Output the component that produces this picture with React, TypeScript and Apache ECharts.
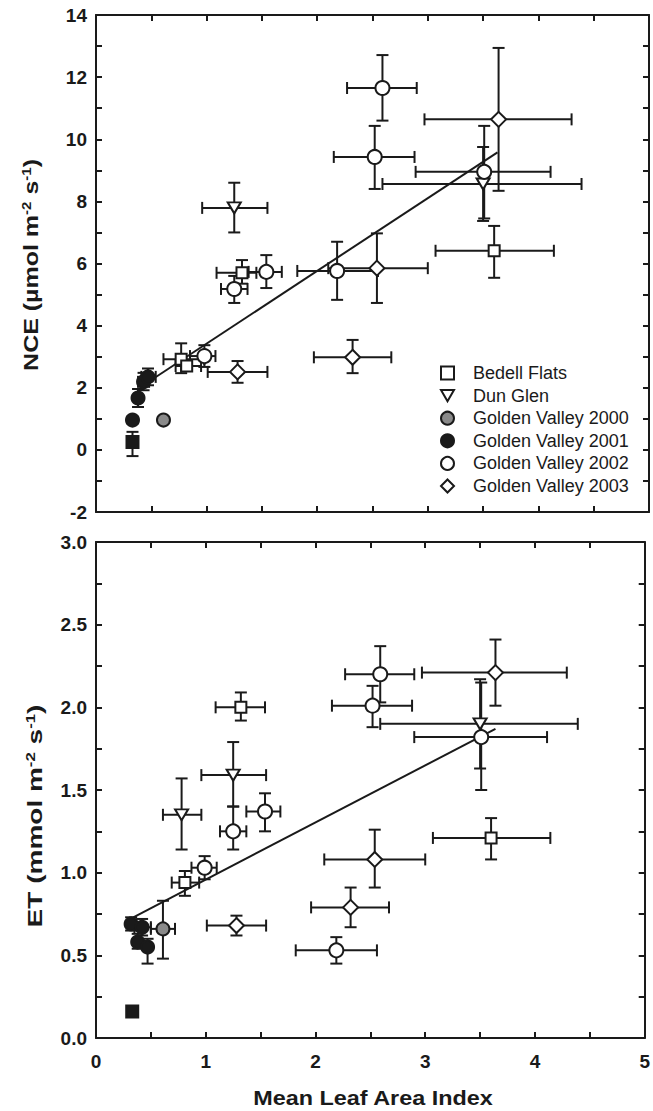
import React, { useEffect, useRef } from "react";
import * as echarts from "echarts";

// ---- data: [x, y, xLow, xHigh, yLow, yHigh] ----
const xTicks = [0, 1, 2, 3, 4, 5];
const nceTicks = [-2, 0, 2, 4, 6, 8, 10, 12, 14];
const etTicks = [0.0, 0.5, 1.0, 1.5, 2.0, 2.5, 3.0];

const bedellNCE = [
  [1.32, 5.7, 1.09, 1.45, 5.35, 6.11],
  [0.77, 2.92, 0.61, 0.98, 2.47, 3.43],
  [0.82, 2.7, 0.72, 0.95, 2.58, 2.85],
  [3.6, 6.41, 3.07, 4.14, 5.54, 7.21],
];
const dunGlenNCE = [
  [1.25, 7.79, 0.96, 1.55, 7.0, 8.6],
  [3.5, 8.56, 2.59, 4.39, 7.37, 9.75],
];
const gv2000NCE = [[0.61, 0.96, 0.61, 0.61, 0.96, 0.96]];
const gv2001NCE = [
  [0.33, 0.96, 0.33, 0.33, 0.85, 1.07],
  [0.38, 1.67, 0.35, 0.41, 1.38, 1.96],
  [0.43, 2.19, 0.38, 0.48, 1.92, 2.48],
  [0.47, 2.35, 0.41, 0.54, 2.08, 2.62],
];
const gv2001SquareNCE = [[0.33, 0.25, 0.33, 0.33, -0.2, 0.58]];
const gv2002NCE = [
  [1.25, 5.18, 1.13, 1.37, 4.73, 5.6],
  [1.54, 5.73, 1.38, 1.68, 5.21, 6.27],
  [0.98, 3.02, 0.85, 1.08, 2.67, 3.37],
  [2.18, 5.76, 1.82, 2.55, 4.83, 6.7],
  [2.59, 11.65, 2.27, 2.9, 10.6, 12.71],
  [2.52, 9.43, 2.15, 2.88, 8.4, 10.43],
  [3.51, 8.95, 2.89, 4.11, 7.45, 10.43],
];
const gv2003NCE = [
  [2.54, 5.85, 2.1, 3.0, 4.73, 6.97],
  [2.32, 2.98, 1.97, 2.67, 2.47, 3.54],
  [1.28, 2.51, 1.01, 1.55, 2.16, 2.86],
  [3.64, 10.64, 2.97, 4.3, 8.34, 12.94],
];
const nceFit = [
  [0.5, 2.25],
  [3.63, 9.58],
];

const bedellET = [
  [1.32, 2.0, 1.09, 1.54, 1.92, 2.09],
  [0.81, 0.94, 0.69, 0.94, 0.86, 1.01],
  [3.6, 1.21, 3.07, 4.14, 1.08, 1.33],
];
const dunGlenET = [
  [1.25, 1.59, 0.96, 1.55, 1.4, 1.79],
  [0.78, 1.35, 0.61, 0.96, 1.14, 1.57],
  [3.5, 1.9, 2.59, 4.39, 1.63, 2.17],
];
const gv2000ET = [[0.61, 0.66, 0.5, 0.72, 0.48, 0.83]];
const gv2001ET = [
  [0.32, 0.69, 0.32, 0.32, 0.65, 0.73],
  [0.42, 0.67, 0.35, 0.5, 0.62, 0.72],
  [0.38, 0.58, 0.38, 0.38, 0.54, 0.63],
  [0.47, 0.55, 0.47, 0.47, 0.45, 0.6],
];
const gv2001SquareET = [[0.33, 0.16, 0.33, 0.33, 0.16, 0.16]];
const gv2002ET = [
  [2.59, 2.2, 2.27, 2.9, 2.03, 2.37],
  [2.52, 2.01, 2.15, 2.88, 1.88, 2.13],
  [1.54, 1.37, 1.37, 1.68, 1.25, 1.48],
  [1.25, 1.25, 1.13, 1.37, 1.14, 1.4],
  [0.99, 1.03, 0.87, 1.1, 0.96, 1.1],
  [2.19, 0.53, 1.82, 2.56, 0.45, 0.61],
  [3.51, 1.82, 2.9, 4.11, 1.5, 2.15],
];
const gv2003ET = [
  [1.28, 0.68, 1.01, 1.55, 0.62, 0.74],
  [2.32, 0.79, 1.96, 2.67, 0.67, 0.91],
  [2.54, 1.08, 2.08, 3.0, 0.91, 1.26],
  [3.64, 2.21, 2.97, 4.29, 2.01, 2.41],
];
const etFit = [
  [0.34, 0.73],
  [3.64, 1.87],
];

const legendNames = [
  "Bedell Flats",
  "Dun Glen",
  "Golden Valley 2000",
  "Golden Valley 2001",
  "Golden Valley 2002",
  "Golden Valley 2003",
];

const FONT = "'Liberation Sans', Arial, sans-serif";
const INK = "#1a1a1a";
const TRI_DOWN = "path://M0,0L12,0L6,10.4Z";

const groupsNCE = [
  { name: legendNames[0], data: bedellNCE, symbol: "rect", size: 11, fill: "#fff" },
  { name: legendNames[1], data: dunGlenNCE, symbol: TRI_DOWN, size: [13, 11], fill: "#fff" },
  { name: legendNames[2], data: gv2000NCE, symbol: "circle", size: 13, fill: "#8a8a8a" },
  { name: legendNames[3], data: gv2001NCE, symbol: "circle", size: 13, fill: INK },
  { name: legendNames[4], data: gv2002NCE, symbol: "circle", size: 14, fill: "#fff" },
  { name: legendNames[5], data: gv2003NCE, symbol: "diamond", size: 15, fill: "#fff" },
  { name: legendNames[3], data: gv2001SquareNCE, symbol: "rect", size: 12, fill: INK },
];
const groupsET = [
  { name: legendNames[0], data: bedellET, symbol: "rect", size: 11, fill: "#fff" },
  { name: legendNames[1], data: dunGlenET, symbol: TRI_DOWN, size: [13, 11], fill: "#fff" },
  { name: legendNames[2], data: gv2000ET, symbol: "circle", size: 13, fill: "#8a8a8a" },
  { name: legendNames[3], data: gv2001ET, symbol: "circle", size: 13, fill: INK },
  { name: legendNames[4], data: gv2002ET, symbol: "circle", size: 14, fill: "#fff" },
  { name: legendNames[5], data: gv2003ET, symbol: "diamond", size: 15, fill: "#fff" },
  { name: legendNames[3], data: gv2001SquareET, symbol: "rect", size: 12, fill: INK },
];

function errorRender(params: any, api: any) {
  const x = api.value(0);
  const y = api.value(1);
  const xl = api.value(2);
  const xh = api.value(3);
  const yl = api.value(4);
  const yh = api.value(5);
  const style = { stroke: INK, lineWidth: 2, fill: null };
  const cap = 6;
  const children: any[] = [];
  if (xh > xl) {
    const a = api.coord([xl, y]);
    const b = api.coord([xh, y]);
    children.push({ type: "line", shape: { x1: a[0], y1: a[1], x2: b[0], y2: b[1] }, style });
    children.push({ type: "line", shape: { x1: a[0], y1: a[1] - cap, x2: a[0], y2: a[1] + cap }, style });
    children.push({ type: "line", shape: { x1: b[0], y1: b[1] - cap, x2: b[0], y2: b[1] + cap }, style });
  }
  if (yh > yl) {
    const a = api.coord([x, yl]);
    const b = api.coord([x, yh]);
    children.push({ type: "line", shape: { x1: a[0], y1: a[1], x2: b[0], y2: b[1] }, style });
    children.push({ type: "line", shape: { x1: a[0] - cap, y1: a[1], x2: a[0] + cap, y2: a[1] }, style });
    children.push({ type: "line", shape: { x1: b[0] - cap, y1: b[1], x2: b[0] + cap, y2: b[1] }, style });
  }
  return { type: "group", children };
}

function buildSeries(groups: any[], fit: number[][], axis: number) {
  const all: number[][] = [];
  groups.forEach((g) => g.data.forEach((d: number[]) => all.push(d)));
  const series: any[] = [
    {
      type: "custom",
      name: "err" + axis,
      xAxisIndex: axis,
      yAxisIndex: axis,
      renderItem: errorRender,
      data: all,
      encode: { x: [0, 2, 3], y: [1, 4, 5] },
      z: 2,
      silent: true,
    },
    {
      type: "line",
      name: "fit" + axis,
      xAxisIndex: axis,
      yAxisIndex: axis,
      data: fit,
      symbol: "none",
      lineStyle: { color: INK, width: 2 },
      z: 3,
      silent: true,
    },
  ];
  groups.forEach((g) => {
    series.push({
      type: "scatter",
      name: g.name,
      xAxisIndex: axis,
      yAxisIndex: axis,
      data: g.data.map((d: number[]) => [d[0], d[1]]),
      symbol: g.symbol,
      symbolSize: g.size,
      itemStyle: { color: g.fill, borderColor: INK, borderWidth: 2, opacity: 1 },
      z: 5,
    });
  });
  return series;
}

const tickLabel = {
  fontSize: 19,
  fontWeight: "bold" as const,
  fontFamily: FONT,
  color: INK,
};
const axisLine = { show: true, onZero: false, lineStyle: { color: INK, width: 2 } };
const axisTick = { show: true, inside: true, length: 6, lineStyle: { color: INK, width: 2 } };

function xAxes(grid: number, showLabels: boolean) {
  return [
    {
      type: "value",
      gridIndex: grid,
      position: "bottom",
      min: 0,
      max: 5,
      interval: 0.5,
      splitLine: { show: false },
      axisLine,
      axisTick,
      axisLabel: showLabels
        ? {
            ...tickLabel,
            margin: 14,
            formatter: (v: number) => (xTicks.indexOf(v) >= 0 ? String(v) : ""),
          }
        : { show: false },
    },
    {
      type: "value",
      gridIndex: grid,
      position: "top",
      min: 0,
      max: 5,
      interval: 0.5,
      splitLine: { show: false },
      axisLine,
      axisTick,
      axisLabel: { show: false },
    },
  ];
}

function yAxes(grid: number, min: number, max: number, interval: number, ticks: number[], digits: number) {
  return [
    {
      type: "value",
      gridIndex: grid,
      position: "left",
      min,
      max,
      interval,
      splitLine: { show: false },
      axisLine,
      axisTick,
      axisLabel: {
        ...tickLabel,
        margin: 9,
        formatter: (v: number) =>
          ticks.some((t) => Math.abs(t - v) < 1e-6) ? v.toFixed(digits) : "",
      },
    },
    {
      type: "value",
      gridIndex: grid,
      position: "right",
      min,
      max,
      interval,
      splitLine: { show: false },
      axisLine,
      axisTick,
      axisLabel: { show: false },
    },
  ];
}

const titleRich = {
  a: { fontSize: 20, fontWeight: "bold", fontFamily: FONT, fill: INK },
  s: { fontSize: 12, fontWeight: "bold", fontFamily: FONT, fill: INK, verticalAlign: "top" },
};

export default function App() {
  const ref = useRef<HTMLDivElement>(null);
  useEffect(() => {
    document.body.style.margin = "0";
    if (!ref.current) return;
    const chart = echarts.init(ref.current, null, { renderer: "svg" });
    const xa = [...xAxes(0, false), ...xAxes(1, true)];
    const ya = [...yAxes(0, -2, 14, 1, nceTicks, 0), ...yAxes(1, 0, 3, 0.25, etTicks, 1)];
    chart.setOption({
      animation: false,
      backgroundColor: "#fff",
      grid: [
        { left: 96, top: 15, width: 553, height: 497 },
        { left: 96, top: 542, width: 553, height: 496 },
      ],
      xAxis: xa,
      yAxis: ya,
      legend: {
        data: legendNames,
        orient: "vertical",
        left: 435,
        top: 358,
        itemWidth: 13,
        itemHeight: 13,
        itemGap: 2.6,
        selectedMode: false,
        textStyle: {
          fontSize: 18,
          fontFamily: FONT,
          color: INK,
          lineHeight: 20,
          padding: [0, 0, 0, 14],
        },
      },
      series: [...buildSeries(groupsNCE, nceFit, 0), ...buildSeries(groupsET, etFit, 2)],
      graphic: [
        {
          type: "text",
          x: 373,
          y: 1098,
          scaleX: 1.17,
          style: {
            text: "Mean Leaf Area Index",
            fontSize: 20,
            fontWeight: "bold",
            fontFamily: FONT,
            fill: INK,
            align: "center",
            verticalAlign: "middle",
          },
        },
        {
          type: "text",
          x: 31,
          y: 265,
          rotation: Math.PI / 2,
          scaleX: 1.25,
          style: {
            text: "{a|NCE (µmol m}{s|-2}{a| s}{s|-1}{a|)}",
            rich: titleRich,
            align: "center",
            verticalAlign: "middle",
          },
        },
        {
          type: "text",
          x: 35,
          y: 816,
          rotation: Math.PI / 2,
          scaleX: 1.4,
          style: {
            text: "{a|ET (mmol m}{s|-2}{a| s}{s|-1}{a|)}",
            rich: titleRich,
            align: "center",
            verticalAlign: "middle",
          },
        },
      ],
    });
    return () => chart.dispose();
  }, []);
  return <div ref={ref} style={{ width: 653, height: 1111 }} />;
}
